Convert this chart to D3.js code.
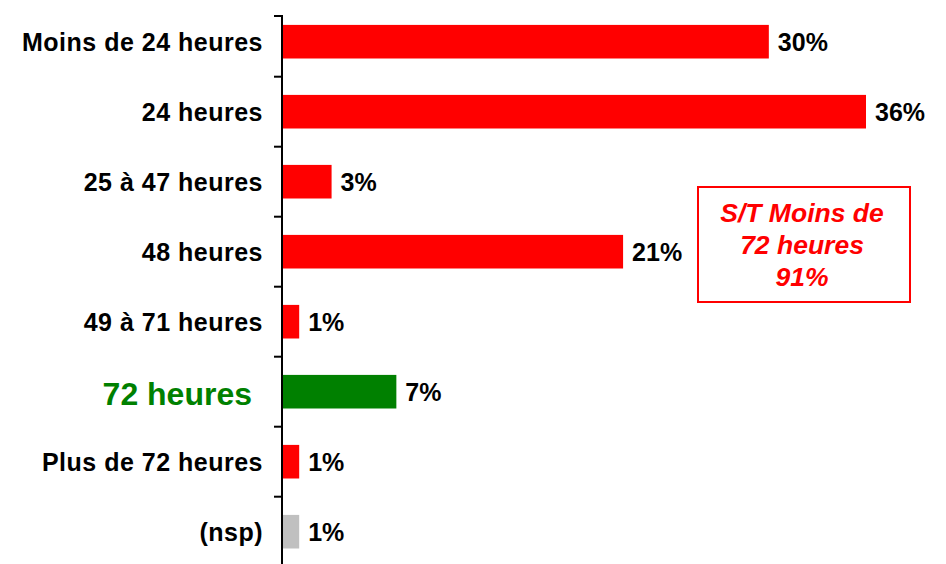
<!DOCTYPE html>
<html>
<head>
<meta charset="utf-8">
<script src="https://cdn.jsdelivr.net/npm/d3@7"></script>
<style>
  html, body { margin: 0; padding: 0; background: #fff; }
  svg { display: block; }
  text { font-family: "Liberation Sans", Arial, sans-serif; }
</style>
</head>
<body>
<svg id="chart" width="946" height="564"></svg>
<script>
// Delay categories and share of answers (%)
const categories = [
  "Moins de 24 heures",
  "24 heures",
  "25 à 47 heures",
  "48 heures",
  "49 à 71 heures",
  "72 heures",
  "Plus de 72 heures",
  "(nsp)"
];
const values = [30, 36, 3, 21, 1, 7, 1, 1];
const valueLabels = ["30%", "36%", "3%", "21%", "1%", "7%", "1%", "1%"];

// Sub-total callout
const calloutLines = ["S/T Moins de", "72 heures", "91%"];

const highlighted = "72 heures";
const noAnswer = "(nsp)";

const colorFor = c => c === highlighted ? "#008000" : (c === noAnswer ? "#c0c0c0" : "#ff0000");

const svg = d3.select("#chart");

const x = d3.scaleLinear().domain([0, 36]).range([283, 866]);
const y = d3.scaleBand()
  .domain(categories)
  .range([6.7, 566.7])
  .paddingInner(0.52)
  .paddingOuter(0.26);

const rows = categories.map((c, i) => ({ c, v: values[i], label: valueLabels[i] }));

// Bars
svg.append("g").selectAll("rect")
  .data(rows)
  .join("rect")
  .attr("x", x(0))
  .attr("y", d => y(d.c))
  .attr("width", d => x(d.v) - x(0))
  .attr("height", y.bandwidth())
  .attr("fill", d => colorFor(d.c));

// Category axis: vertical line with ticks between categories
const axis = svg.append("g");
axis.append("line")
  .attr("x1", 282).attr("x2", 282)
  .attr("y1", 16).attr("y2", 564)
  .attr("stroke", "#000").attr("stroke-width", 2);
const step = y.step();
const tickYs = [16].concat(categories.slice(1).map(c => y(c) - step * y.paddingInner() / 2));
axis.selectAll("line.tick")
  .data(tickYs)
  .join("line")
  .attr("class", "tick")
  .attr("x1", 274).attr("x2", 283)
  .attr("y1", d => d).attr("y2", d => d)
  .attr("stroke", "#000").attr("stroke-width", 2);

// Category labels
svg.append("g").selectAll("text")
  .data(rows)
  .join("text")
  .attr("x", d => d.c === highlighted ? 252 : 263)
  .attr("y", d => y(d.c) + y.bandwidth() / 2)
  .attr("dy", d => d.c === highlighted ? "0.4em" : "0.38em")
  .attr("text-anchor", "end")
  .attr("font-weight", "bold")
  .attr("font-size", d => d.c === highlighted ? 32 : 25)
  .attr("letter-spacing", d => d.c === highlighted ? 0 : 0.5)
  .attr("fill", d => d.c === highlighted ? "#008000" : "#000")
  .text(d => d.c);

// Value labels
svg.append("g").selectAll("text")
  .data(rows)
  .join("text")
  .attr("x", d => x(d.v) + 9)
  .attr("y", d => y(d.c) + y.bandwidth() / 2)
  .attr("dy", "0.38em")
  .attr("font-weight", "bold")
  .attr("font-size", 25)
  .attr("fill", "#000")
  .text(d => d.label);

// Callout box
const callout = svg.append("g");
callout.append("rect")
  .attr("x", 698).attr("y", 187)
  .attr("width", 212).attr("height", 115)
  .attr("fill", "#fff")
  .attr("stroke", "#ff0000").attr("stroke-width", 2);
callout.selectAll("text")
  .data(calloutLines)
  .join("text")
  .attr("x", 802)
  .attr("y", (d, i) => 222 + i * 32)
  .attr("text-anchor", "middle")
  .attr("font-weight", "bold")
  .attr("font-style", "italic")
  .attr("font-size", 26.5)
  .attr("fill", "#ff0000")
  .text(d => d);
</script>
</body>
</html>
